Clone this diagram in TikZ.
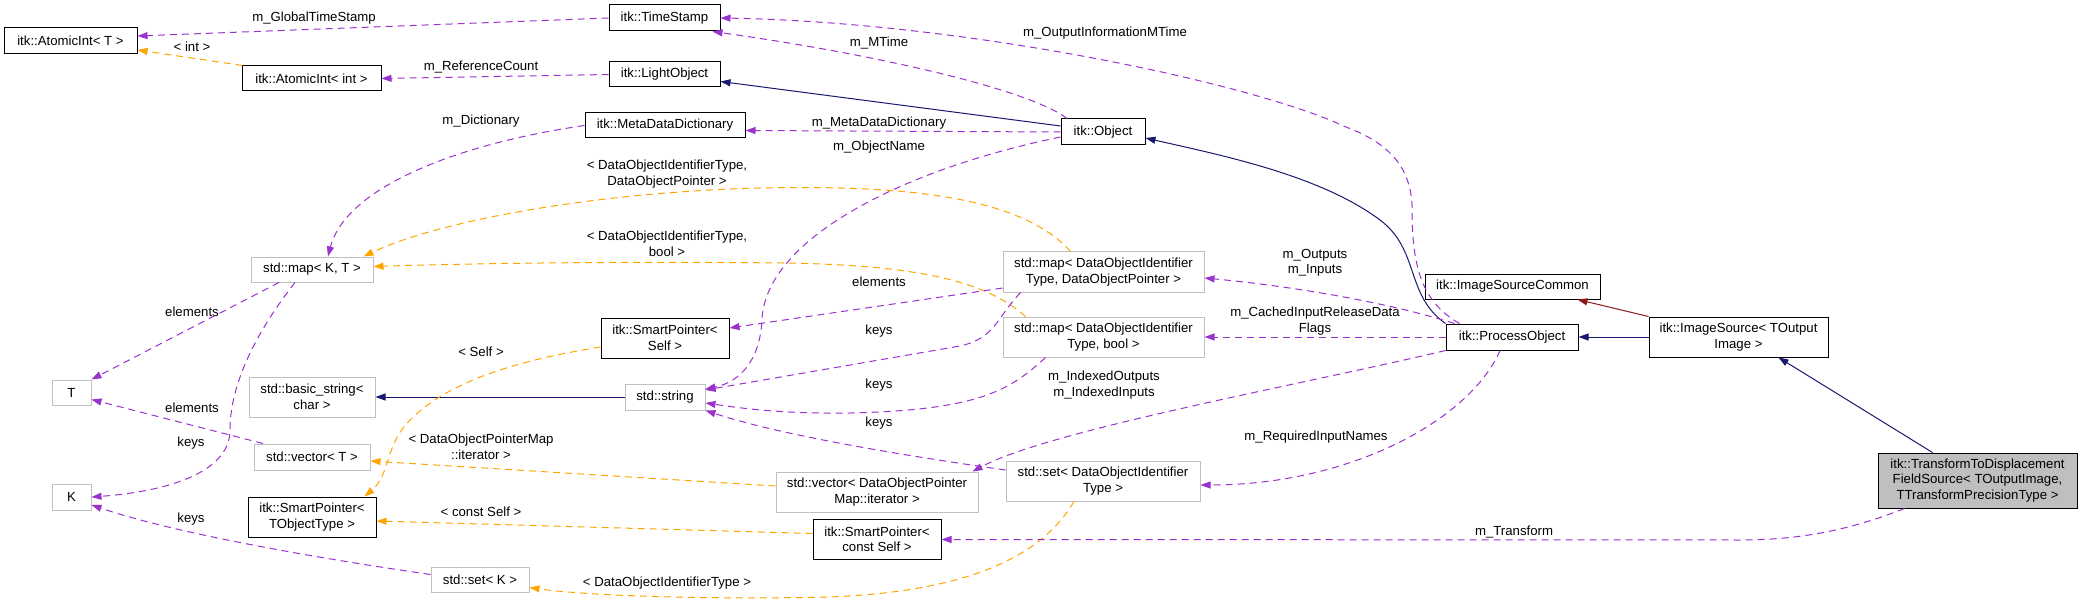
\documentclass[tikz,border=0pt]{standalone}
\usepackage{fontspec}
\setmainfont{Liberation Sans}
\usetikzlibrary{arrows.meta}
\definecolor{membercol}{HTML}{9A32CD}
\definecolor{tmplcol}{HTML}{FFA500}
\definecolor{inhcol}{HTML}{191970}
\definecolor{privcol}{HTML}{8B1A1A}
\definecolor{undoc}{HTML}{BFBFBF}
\begin{document}
\begin{tikzpicture}[x=1pt,y=-1pt,>={Triangle[length=10pt,width=7pt]},
  font=\fontsize{13.2}{15.5}\selectfont,
  box/.style={draw=black,line width=1pt,inner sep=0pt,align=center,fill=white},
  ext/.style={box,draw=undoc},
  lbl/.style={inner sep=0pt,align=center},
  member/.style={->,membercol,line width=1pt,dash pattern=on 7pt off 5pt},
  tmpl/.style={->,tmplcol,line width=1pt,dash pattern=on 7pt off 5pt},
  inh/.style={->,inhcol,line width=1pt},
  priv/.style={->,privcol,line width=1pt}]
 \useasboundingbox[fill=white] (0,0) rectangle (2083,604);
 % classes
 \node[box,minimum width=133pt,minimum height=26pt] (atomicT) at (70.5,41) {itk::AtomicInt< T >};
 \node[box,minimum width=111pt,minimum height=26pt] (timeStamp) at (664.5,18) {itk::TimeStamp};
 \node[box,minimum width=139pt,minimum height=25pt] (atomicInt) at (311.5,78.5) {itk::AtomicInt< int >};
 \node[box,minimum width=111pt,minimum height=25pt] (lightObject) at (664.5,74.5) {itk::LightObject};
 \node[box,minimum width=160pt,minimum height=25pt] (metaDict) at (665,125.5) {itk::MetaDataDictionary};
 \node[box,minimum width=84pt,minimum height=26pt] (object) at (1103,132) {itk::Object};
 \node[ext,minimum width=122pt,minimum height=25pt] (mapKT) at (312,269.5) {std::map< K, T >};
 \node[ext,minimum width=39pt,minimum height=25pt] (tT) at (71.5,392.5) {T};
 \node[ext,minimum width=39pt,minimum height=26pt] (kK) at (71.5,497) {K};
 \node[ext,minimum width=126pt,minimum height=40pt] (basicString) at (312,397) {std::basic\_string<\\char >};
 \node[box,minimum width=128pt,minimum height=40pt] (spSelf) at (665,338) {itk::SmartPointer<\\Self >};
 \node[ext,minimum width=80pt,minimum height=26pt] (stdString) at (665,397) {std::string};
 \node[ext,minimum width=116pt,minimum height=26pt] (vectorT) at (312,457) {std::vector< T >};
 \node[box,minimum width=128pt,minimum height=40pt] (spTObj) at (312,517) {itk::SmartPointer<\\TObjectType >};
 \node[ext,minimum width=98pt,minimum height=25pt] (setK) at (480,579.5) {std::set< K >};
 \node[ext,minimum width=201pt,minimum height=40pt] (mapDOP) at (1103.5,272) {std::map< DataObjectIdentifier\\Type, DataObjectPointer >};
 \node[ext,minimum width=201pt,minimum height=40pt] (mapBool) at (1103.5,337) {std::map< DataObjectIdentifier\\Type, bool >};
 \node[ext,minimum width=202pt,minimum height=40pt] (vecDOPM) at (877,492) {std::vector< DataObjectPointer\\Map::iterator >};
 \node[ext,minimum width=194pt,minimum height=40pt] (setDOI) at (1103,481) {std::set< DataObjectIdentifier\\Type >};
 \node[box,minimum width=128pt,minimum height=40pt] (spConst) at (877,539.5) {itk::SmartPointer<\\const Self >};
 \node[box,minimum width=175pt,minimum height=25pt] (imgSrcCommon) at (1512.5,286.5) {itk::ImageSourceCommon};
 \node[box,minimum width=132pt,minimum height=26pt] (processObj) at (1512,337) {itk::ProcessObject};
 \node[box,minimum width=179pt,minimum height=40pt] (imgSource) at (1738.5,337) {itk::ImageSource< TOutput\\Image >};
 \node[box,fill=undoc,minimum width=199pt,minimum height=55pt] (transform) at (1977.5,480.5) {itk::TransformToDisplacement\\FieldSource< TOutputImage,\\TTransformPrecisionType >};
 % labels
 \node[lbl] (lGlobal) at (314,18) {m\_GlobalTimeStamp};
 \node[lbl] (lInt) at (192,47) {< int >};
 \node[lbl] (lRefCount) at (481,67) {m\_ReferenceCount};
 \node[lbl] (lMTime) at (879,43) {m\_MTime};
 \node[lbl] (lOutInfo) at (1105,33) {m\_OutputInformationMTime};
 \node[lbl] (lMetaDict) at (879,123) {m\_MetaDataDictionary};
 \node[lbl] (lObjName) at (879,147) {m\_ObjectName};
 \node[lbl] (lDict) at (481,121) {m\_Dictionary};
 \node[lbl] (lMapDOP) at (667,174) {< DataObjectIdentifierType,\\DataObjectPointer >};
 \node[lbl] (lMapBool) at (667,244) {< DataObjectIdentifierType,\\bool >};
 \node[lbl] (lElemA) at (192,312) {elements};
 \node[lbl] (lKeysA) at (191,443) {keys};
 \node[lbl] (lElemB) at (192,408) {elements};
 \node[lbl] (lKeysB) at (191,519) {keys};
 \node[lbl] (lSelf) at (481,352) {< Self >};
 \node[lbl] (lConstSelf) at (481,512) {< const Self >};
 \node[lbl] (lIter) at (481,447) {< DataObjectPointerMap\\::iterator >};
 \node[lbl] (lDOIType) at (667,583) {< DataObjectIdentifierType >};
 \node[lbl] (lElemC) at (879,282) {elements};
 \node[lbl] (lKeysC) at (879,331) {keys};
 \node[lbl] (lKeysD) at (879,385) {keys};
 \node[lbl] (lKeysE) at (879,423) {keys};
 \node[lbl] (lOutputs) at (1315,263) {m\_Outputs\\m\_Inputs};
 \node[lbl] (lCached) at (1315,321) {m\_CachedInputReleaseData\\Flags};
 \node[lbl] (lIndexed) at (1104,385) {m\_IndexedOutputs\\m\_IndexedInputs};
 \node[lbl] (lRequired) at (1316,437) {m\_RequiredInputNames};
 \node[lbl] (lTransform) at (1514,532) {m\_Transform};
 % connectors
 \draw[member] (timeStamp.west) -- ([yshift=5pt]atomicT.east);
 \draw[tmpl] ([xshift=-69pt]atomicInt.north) -- ([yshift=-9pt]atomicT.east);
 \draw[member] (lightObject.west) -- (atomicInt.east);
 \draw[member] ([xshift=-36pt]object.north) .. controls (1030,90) and (880,55) .. ([xshift=-8pt]timeStamp.south east);
 \draw[member] ([xshift=14pt]processObj.north west) .. controls (1418,300) and (1412,260) .. (1412,205)
   .. controls (1410,160) and (1380,140) .. (1346,127) .. controls (1250,82) and (960,22) .. (timeStamp.east);
 \draw[inh] ([yshift=6pt]object.west) -- ([yshift=-7pt]lightObject.east);
 \draw[member] (object.west) -- ([yshift=-5pt]metaDict.east);
 \draw[member] ([yshift=-5pt]object.west) .. controls (900,170) and (765,240) .. (762,320)
   .. controls (760,360) and (740,382) .. ([yshift=8pt]stdString.east);
 \draw[member] (metaDict.west) .. controls (450,145) and (345,190) .. ([xshift=16pt]mapKT.north);
 \draw[tmpl] ([xshift=-33pt]mapDOP.north) .. controls (1020,195) and (900,185) .. (760,188)
   .. controls (600,192) and (440,220) .. ([xshift=-10pt]mapKT.north east);
 \draw[tmpl] ([xshift=-78pt]mapBool.north) .. controls (990,285) and (930,265) .. (783,263)
   .. controls (600,261) and (450,264) .. ([yshift=3pt]mapKT.east);
 \draw[member] ([xshift=-33pt]mapKT.south) -- (tT.north east);
 \draw[member] ([xshift=-17pt]mapKT.south) .. controls (250,340) and (230,390) .. (230,430)
   .. controls (230,475) and (160,492) .. (kK.east);
 \draw[member] ([xshift=-49pt]vectorT.north) -- ([yshift=-7pt]tT.east);
 \draw[member] ([yshift=5pt]setK.west) .. controls (330,560) and (180,535) .. ([yshift=-8pt]kK.east);
 \draw[inh] (stdString.west) -- (basicString.east);
 \draw[tmpl] ([yshift=-9pt]spSelf.west) .. controls (520,360) and (450,380) .. (410,420)
   .. controls (385,445) and (390,475) .. ([xshift=-12pt]spTObj.north east);
 \draw[tmpl] ([yshift=6pt]spConst.west) -- ([yshift=-4pt]spTObj.east);
 \draw[tmpl] ([yshift=6pt]vecDOPM.west) -- ([yshift=-4pt]vectorT.east);
 \draw[tmpl] ([xshift=-29pt]setDOI.south) .. controls (1040,560) and (960,592) .. (829,597)
   .. controls (700,600) and (580,595) .. ([yshift=-8pt]setK.east);
 \draw[member] ([yshift=-16pt]mapDOP.west) -- ([yshift=10pt]spSelf.east);
 \draw[member] ([xshift=-83pt]mapDOP.south) .. controls (995,320) and (995,338) .. (960,346) -- ([yshift=7pt]stdString.east);
 \draw[member] ([xshift=-58pt]mapBool.south) .. controls (1010,390) and (980,410) .. (850,413)
   .. controls (780,414) and (740,408) .. ([yshift=-6pt]stdString.east);
 \draw[member] ([yshift=11pt]setDOI.west) .. controls (900,455) and (780,435) .. (stdString.south east);
 \draw[inh] (processObj.north west) .. controls (1405,295) and (1420,250) .. (1380,220)
   .. controls (1320,175) and (1220,155) .. ([yshift=-6pt]object.east);
 \draw[member] ([xshift=9pt]processObj.north west) .. controls (1380,300) and (1280,285) .. ([yshift=-6pt]mapDOP.east);
 \draw[member] (processObj.west) -- (mapBool.east);
 \draw[member] (processObj.south west) .. controls (1300,385) and (1050,430) .. ([xshift=-6pt]vecDOPM.north east);
 \draw[member] ([xshift=-12pt]processObj.south) .. controls (1470,420) and (1350,485) .. ([yshift=-4pt]setDOI.east);
 \draw[inh] (imgSource.west) -- (processObj.east);
 \draw[priv] (imgSource.north west) -- ([xshift=-23pt]imgSrcCommon.south east);
 \draw[inh] ([xshift=-45pt]transform.north) -- ([xshift=40pt]imgSource.south);
 \draw[member] ([xshift=-73pt]transform.south) .. controls (1850,530) and (1800,540) .. (1740,540) -- (spConst.east);
\end{tikzpicture}
\end{document}
